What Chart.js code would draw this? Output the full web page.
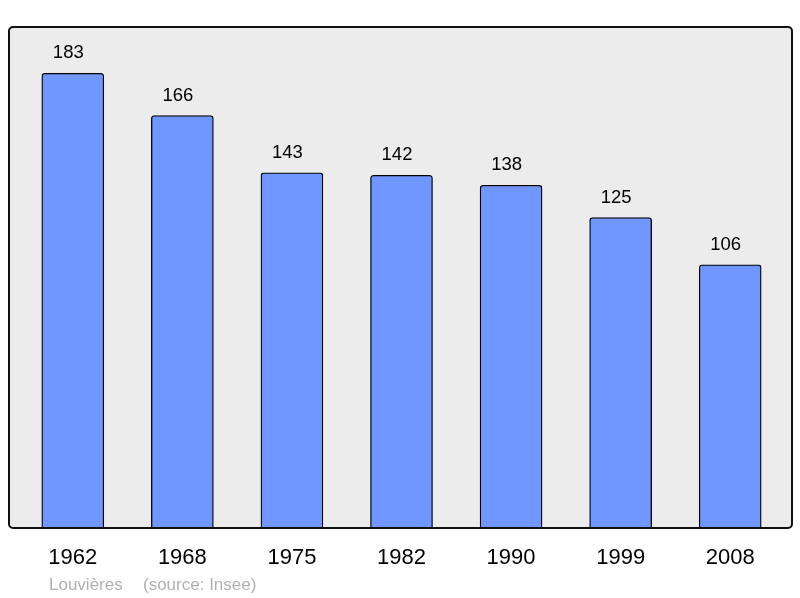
<!DOCTYPE html>
<html><head><meta charset="utf-8">
<script src="https://cdn.jsdelivr.net/npm/chart.js@4/dist/chart.umd.min.js"></script>
<style>html,body{margin:0;padding:0;background:#fff}#c{display:block}</style>
</head><body>
<canvas id="c" width="800" height="598"></canvas>
<script>
const years = ["1962","1968","1975","1982","1990","1999","2008"];
const population = [183,166,143,142,138,125,106];
const place = "Louvières";
const source = "(source: Insee)";

const boxPlugin = {
  id: 'box',
  beforeDatasetsDraw(chart){
    const ctx = chart.ctx;
    ctx.save();
    ctx.beginPath();
    ctx.roundRect(9, 27, 783, 501, 4);
    ctx.fillStyle = '#ececec';
    ctx.fill();
    ctx.restore();
  },
  afterDatasetsDraw(chart){
    const ctx = chart.ctx;
    ctx.save();
    ctx.beginPath();
    ctx.roundRect(9, 27, 783, 501, 4);
    ctx.lineWidth = 2;
    ctx.strokeStyle = '#111';
    ctx.stroke();
    // value labels
    const meta = chart.getDatasetMeta(0);
    ctx.fillStyle = '#000';
    ctx.font = '18.5px "Liberation Sans", Arial, sans-serif';
    ctx.textAlign = 'center';
    ctx.textBaseline = 'alphabetic';
    meta.data.forEach((bar, i) => {
      ctx.fillText(String(population[i]), bar.x - 4.5, bar.y - 15);
    });
    // footer
    ctx.fillStyle = '#b0b0b0';
    ctx.font = '17px "Liberation Sans", Arial, sans-serif';
    ctx.textAlign = 'left';
    ctx.fillText(place, 49, 590);
    ctx.fillText(source, 143, 590);
    ctx.restore();
  }
};

new Chart(document.getElementById('c'), {
  type: 'bar',
  data: {
    labels: years,
    datasets: [{
      data: population,
      backgroundColor: '#7097ff',
      borderColor: '#000',
      borderWidth: 1.3,
      borderRadius: {topLeft: 3, topRight: 3, bottomLeft: 0, bottomRight: 0},
      borderSkipped: 'bottom',
      barThickness: 62
    }]
  },
  options: {
    responsive: false,
    animation: false,
    devicePixelRatio: 1,
    layout: { padding: { left: 18, right: 15, top: 27, bottom: 11 } },
    plugins: { legend: { display: false }, tooltip: { enabled: false } },
    scales: {
      x: {
        grid: { display: false, drawTicks: false },
        border: { display: false },
        ticks: { color: '#000', font: { size: 22, family: '"Liberation Sans", Arial, sans-serif' }, padding: 16, maxRotation: 0 }
      },
      y: { display: false, min: 0, max: 201.6 }
    }
  },
  plugins: [boxPlugin]
});
</script>
</body></html>
